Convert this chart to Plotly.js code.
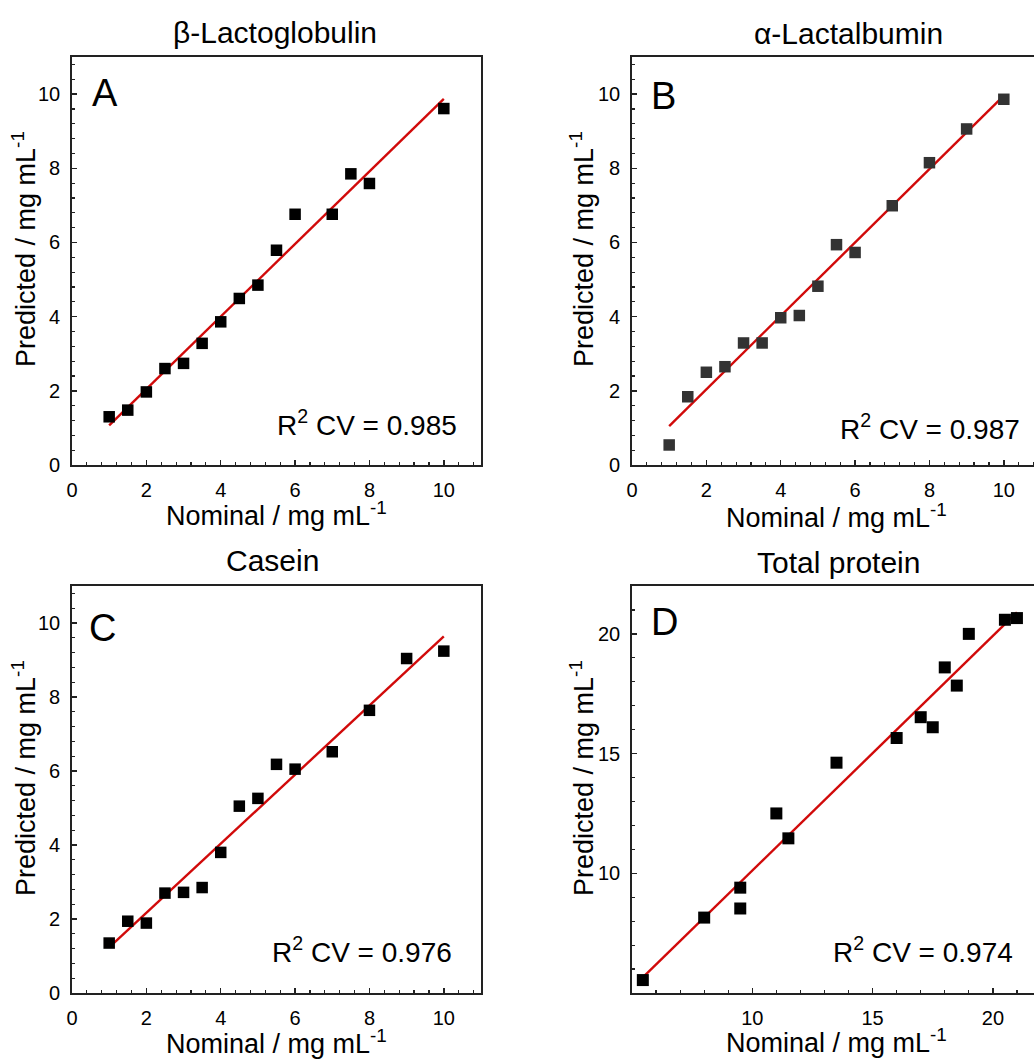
<!DOCTYPE html>
<html>
<head>
<meta charset="utf-8">
<script src="https://cdn.plot.ly/plotly-3.0.1.min.js"></script>
<style>
html, body { margin: 0; padding: 0; overflow: hidden; background: #fff; }
#chart { width: 1045px; height: 1059px; }
</style>
</head>
<body>
<div id="chart"></div>
<script>
// ---- Data ----
const panelTitles = ["β-Lactoglobulin", "α-Lactalbumin", "Casein", "Total protein"];
const panelLetters = ["A", "B", "C", "D"];
const r2Values = ["0.985", "0.987", "0.976", "0.974"];

const xA = [1, 1.5, 2, 2.5, 3, 3.5, 4, 4.5, 5, 5.5, 6, 7, 7.5, 8, 10];
const yA = [1.30, 1.48, 1.97, 2.60, 2.74, 3.28, 3.86, 4.49, 4.85, 5.79, 6.76, 6.76, 7.85, 7.59, 9.61];
const fitXA = [1, 10];
const fitYA = [1.07, 9.87];

const xB = [1, 1.5, 2, 2.5, 3, 3.5, 4, 4.5, 5, 5.5, 6, 7, 8, 9, 10];
const yB = [0.54, 1.84, 2.50, 2.65, 3.29, 3.29, 3.97, 4.03, 4.82, 5.94, 5.73, 6.99, 8.15, 9.06, 9.86];
const fitXB = [1, 10];
const fitYB = [1.05, 9.96];

const xC = [1, 1.5, 2, 2.5, 3, 3.5, 4, 4.5, 5, 5.5, 6, 7, 8, 9, 10];
const yC = [1.35, 1.94, 1.89, 2.70, 2.72, 2.85, 3.80, 5.05, 5.26, 6.18, 6.05, 6.52, 7.64, 9.04, 9.24];
const fitXC = [1, 10];
const fitYC = [1.23, 9.64];

const xD = [5.45, 8, 9.5, 9.5, 11, 11.5, 13.5, 16, 17, 17.5, 18, 18.5, 19, 20.5, 21];
const yD = [5.54, 8.15, 9.40, 8.53, 12.50, 11.46, 14.62, 15.65, 16.52, 16.10, 18.60, 17.84, 20.0, 20.59, 20.66];
const fitXD = [5.45, 21];
const fitYD = [5.65, 20.9];

const ticksSmall = [0, 2, 4, 6, 8, 10];
const ticksTotal = [10, 15, 20];

// ---- Layout helpers ----
const W = 1045, H = 1059;
const px = v => v / W;
const py = v => 1 - v / H;
const FONT = "Liberation Sans, Arial, sans-serif";
const xTitle = "Nominal / mg mL<sup>-1</sup>";
const yTitle = "Predicted / mg mL<sup>-1</sup>";

function axis(domain, range, tickvals, minorDtick, anchor) {
  return {
    domain: domain, range: range, anchor: anchor,
    tickmode: "array", tickvals: tickvals,
    ticks: "inside", ticklen: 5, tickwidth: 1.4, tickcolor: "#222",
    minor: { dtick: minorDtick, tick0: 0, ticks: "inside", ticklen: 3, tickwidth: 1.2, tickcolor: "#222" },
    showline: true, mirror: true, linecolor: "#222", linewidth: 1.8,
    showgrid: false, zeroline: false,
    tickfont: { family: FONT, size: 20, color: "#000" },
    ticklabelstandoff: 6,
    automargin: false
  };
}

const colL = [px(72), px(481)];
const colR = [px(632), px(1041)];
const rowT = [py(465), py(57)];
const rowB = [py(993), py(586)];

function scatter(x, y, xa, ya, color, size) {
  return { x: x, y: y, xaxis: xa, yaxis: ya, type: "scatter", mode: "markers",
    marker: { symbol: "square", size: size, color: color }, showlegend: false, hoverinfo: "x+y" };
}
function fit(x, y, xa, ya) {
  return { x: x, y: y, xaxis: xa, yaxis: ya, type: "scatter", mode: "lines",
    line: { color: "#d10a0a", width: 2.4 }, showlegend: false, hoverinfo: "skip" };
}

const data = [
  fit(fitXA, fitYA, "x", "y"), scatter(xA, yA, "x", "y", "#000", 11.5),
  fit(fitXB, fitYB, "x2", "y2"), scatter(xB, yB, "x2", "y2", "#333", 11.5),
  fit(fitXC, fitYC, "x3", "y3"), scatter(xC, yC, "x3", "y3", "#000", 11.5),
  fit(fitXD, fitYD, "x4", "y4"), scatter(xD, yD, "x4", "y4", "#000", 12)
];

function ann(text, x, y, size, xanchor, angle) {
  return { text: text, xref: "paper", yref: "paper", x: px(x), y: py(y),
    xanchor: xanchor, yanchor: "middle", showarrow: false, textangle: angle || 0,
    font: { family: FONT, size: size, color: "#000" } };
}

const annotations = [
  ann(panelTitles[0], 275, 33, 30, "center"),
  ann(panelTitles[1], 848, 34, 30, "center"),
  ann(panelTitles[2], 272, 560, 30, "center"),
  ann(panelTitles[3], 838, 562, 30, "center"),
  ann(panelLetters[0], 90, 93, 38, "left"),
  ann(panelLetters[1], 649, 96, 38, "left"),
  ann(panelLetters[2], 87, 628, 38, "left"),
  ann(panelLetters[3], 649, 622, 38, "left"),
  ann("R<sup>2</sup> CV = " + r2Values[0], 459, 423, 28, "right"),
  ann("R<sup>2</sup> CV = " + r2Values[1], 1022, 427, 28, "right"),
  ann("R<sup>2</sup> CV = " + r2Values[2], 454, 950, 28, "right"),
  ann("R<sup>2</sup> CV = " + r2Values[3], 1015, 950, 28, "right"),
  // axis titles
  ann(xTitle, 276, 514, 27, "center"),
  ann(xTitle, 836, 516, 27, "center"),
  ann(xTitle, 276, 1042, 27, "center"),
  ann(xTitle, 836, 1041, 27, "center"),
  ann(yTitle, 24, 249, 27, "center", -90),
  ann(yTitle, 582, 249, 27, "center", -90),
  ann(yTitle, 24, 778, 27, "center", -90),
  ann(yTitle, 582, 778, 27, "center", -90)
];

const layout = {
  width: W, height: H,
  margin: { l: 0, r: 0, t: 0, b: 0 },
  paper_bgcolor: "#fff", plot_bgcolor: "#fff",
  showlegend: false,
  xaxis: axis(colL, [0, 11], ticksSmall, 0.4, "y"),
  yaxis: axis(rowT, [0, 11], ticksSmall, 0.4, "x"),
  xaxis2: axis(colR, [0, 11], ticksSmall, 0.4, "y2"),
  yaxis2: axis(rowT, [0, 11], ticksSmall, 0.4, "x2"),
  xaxis3: axis(colL, [0, 11], ticksSmall, 0.4, "y3"),
  yaxis3: axis(rowB, [0, 11], ticksSmall, 0.4, "x3"),
  xaxis4: axis(colR, [5, 22], ticksTotal, 1, "y4"),
  yaxis4: axis(rowB, [5, 22], ticksTotal, 1, "x4"),
  annotations: annotations
};

Plotly.newPlot("chart", data, layout, { displayModeBar: false, staticPlot: true });
</script>
</body>
</html>
